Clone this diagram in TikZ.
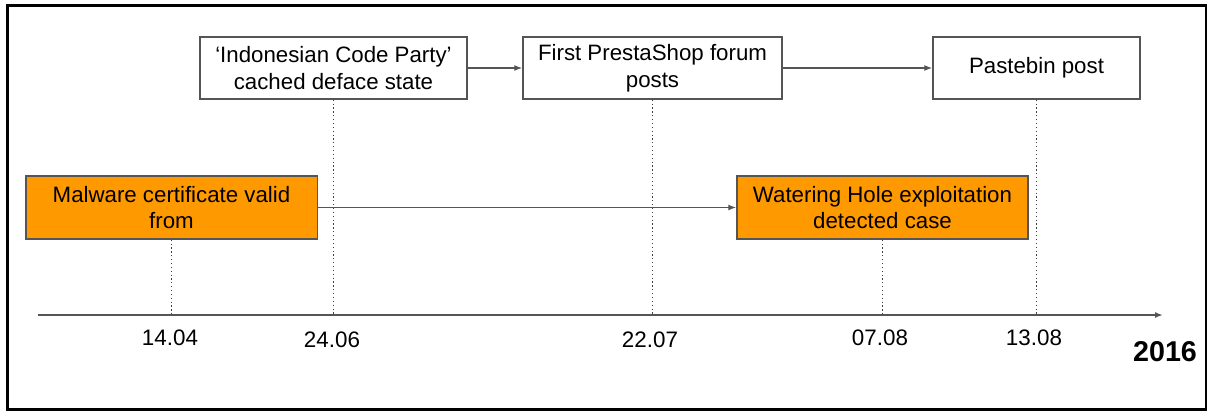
\documentclass[tikz,border=0pt]{standalone}
\usepackage{fontspec}
\setmainfont{Liberation Sans}
\usetikzlibrary{arrows.meta}
\definecolor{boxorange}{HTML}{FF9900}
\definecolor{edgegray}{HTML}{555555}
\tikzset{
  evbox/.style={draw=edgegray, line width=1.1pt, inner sep=0pt, minimum height=46.5pt,
    align=center, font=\fontsize{16.7}{20}\selectfont, text=black},
  hot/.style={evbox, fill=boxorange},
  link/.style={draw=edgegray, line width=1pt, -{Latex[length=6pt,width=4.5pt]}},
  guide/.style={draw=black!75, line width=0.9pt, dotted},
  datelab/.style={font=\fontsize{16.8}{19}\selectfont, text=black, inner sep=0pt}
}
\begin{document}
\begin{tikzpicture}[x=0.75pt,y=-0.75pt]
\useasboundingbox (0,0) rectangle (1212,412);
\draw[line width=2.2pt, black] (7.5,5.5) rectangle (1206,409.5);
% boxes
\node[evbox, minimum width=200.25pt] (ind) at (333.5,68) {`Indonesian Code Party'\\cached deface state};
\node[evbox, minimum width=194.25pt] (pre) at (652.5,68) {First PrestaShop forum\\posts};
\node[evbox, minimum width=155.25pt] (pas) at (1036.5,68) {Pastebin post};
\node[hot, minimum width=218.6pt, minimum height=47.25pt] (mal) at (171.5,207.5) {Malware certificate valid\\from};
\node[hot, minimum width=218.25pt, minimum height=47.25pt] (wat) at (882.5,207.5) {Watering Hole exploitation\\detected case};
% timeline
\coordinate (axs) at (38,315);
\coordinate (axe) at (1163,315);
\draw[draw=edgegray, line width=1.5pt, -{Latex[length=6pt,width=4.5pt]}] (axs) -- (axe);
\coordinate (t1) at (171.5,315);
\coordinate (t2) at (333.5,315);
\coordinate (t3) at (652.5,315);
\coordinate (t4) at (882.5,315);
\coordinate (t5) at (1036.5,315);
\draw[guide] (mal.south) -- (t1);
\draw[guide] (ind.south) -- (t2);
\draw[guide] (pre.south) -- (t3);
\draw[guide] (wat.south) -- (t4);
\draw[guide] (pas.south) -- (t5);
% connectors
\draw[link] (ind.east) -- (pre.west);
\draw[link] (pre.east) -- (pas.west);
\draw[link] (mal.east) -- (wat.west);
% labels
\node[datelab] (l1) at (170,338) {14.04};
\node[datelab] (l2) at (332,340) {24.06};
\node[datelab] (l3) at (650,340) {22.07};
\node[datelab] (l4) at (880,338) {07.08};
\node[datelab] (l5) at (1034,338) {13.08};
\node[font=\fontsize{21.5}{25}\selectfont\bfseries, inner sep=0pt] (yr) at (1165,352) {2016};
\end{tikzpicture}
\end{document}
